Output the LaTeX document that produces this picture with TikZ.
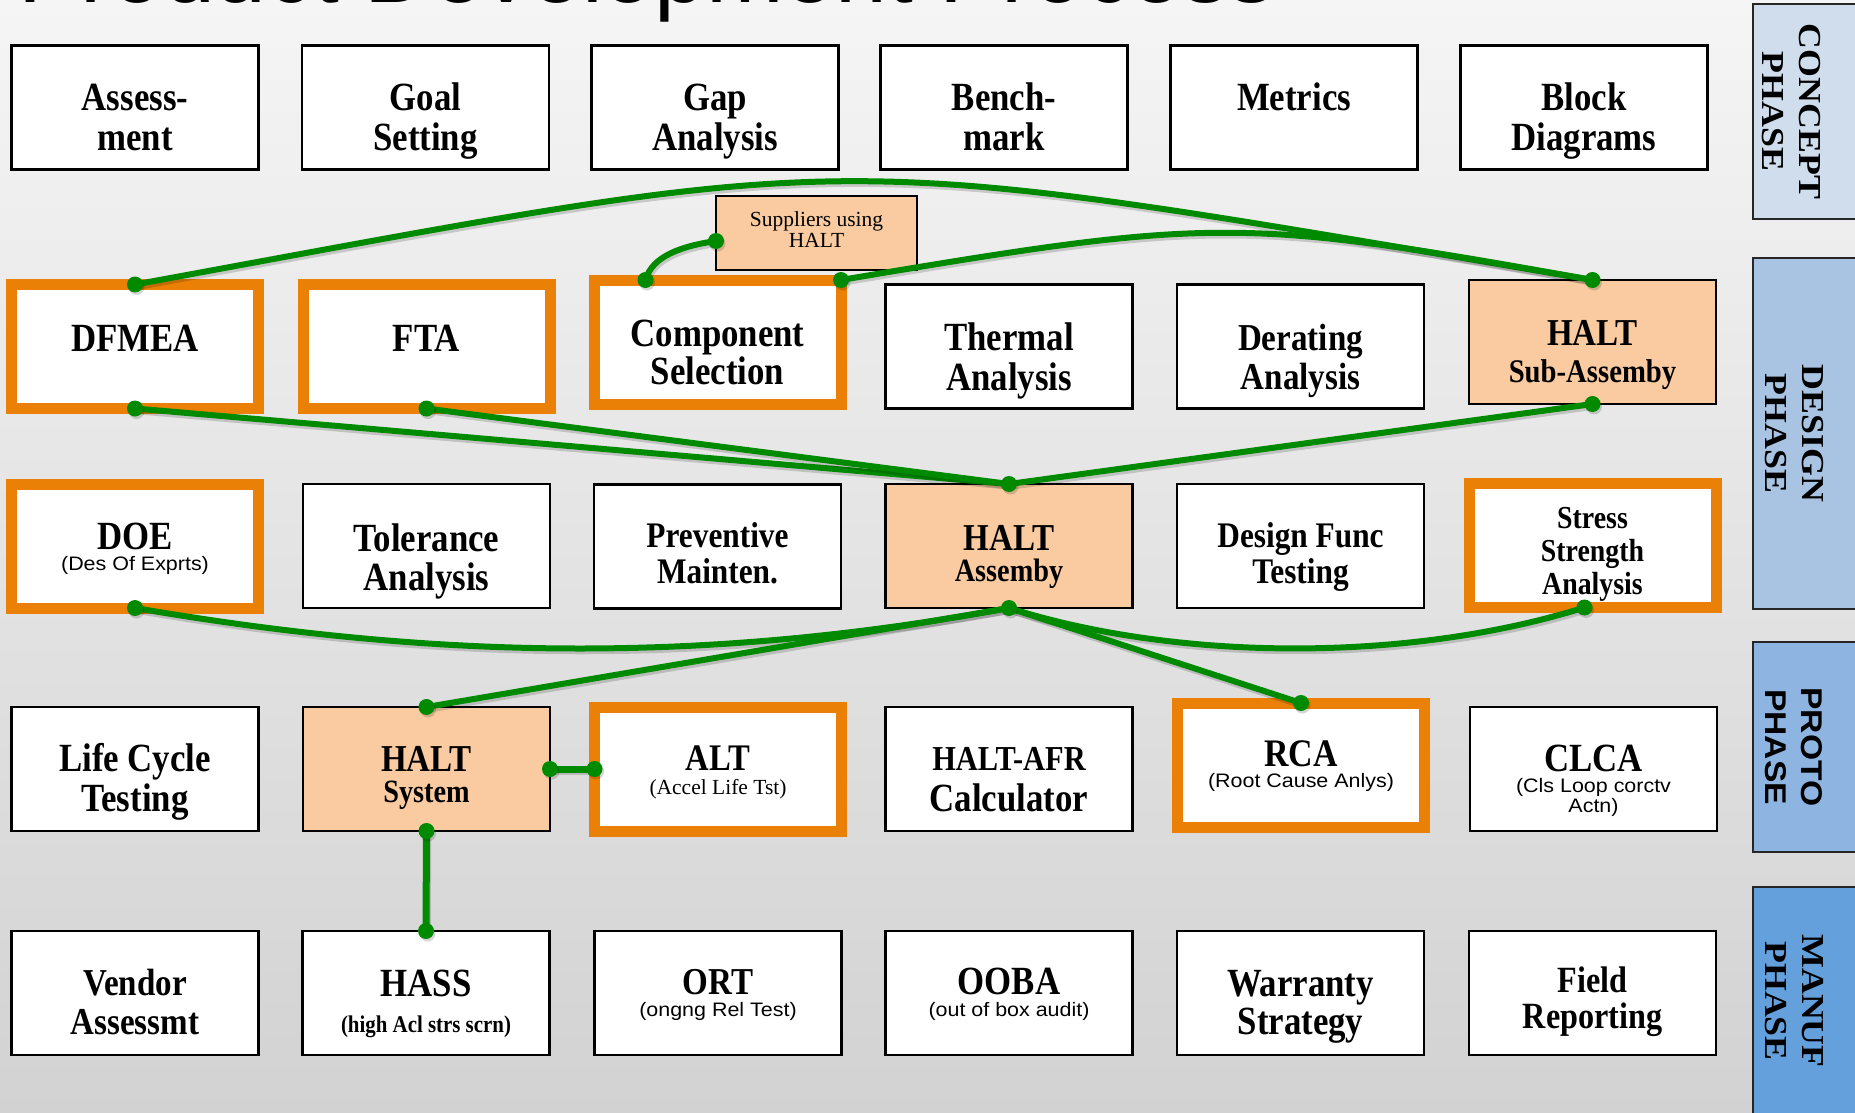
\documentclass[tikz,border=0pt]{standalone}
\usepackage{fontspec}
\setmainfont{Liberation Serif}
\newfontfamily\serifc[FakeStretch=0.87]{Liberation Serif}
\newfontfamily\sansn[FakeStretch=1.1]{Liberation Sans}
\newfontfamily\serifw[FakeStretch=1.12]{Liberation Serif}
\newfontfamily\sansw[FakeStretch=1.12]{Liberation Sans}
\newfontfamily\headfont[FakeStretch=0.98]{Liberation Sans}
\usetikzlibrary{calc}

\newcommand\tbold[1]{\serifc\bfseries\fontsize{#1}{#1}\selectfont}
\newcommand\treg[1]{\rmfamily\fontsize{#1}{#1}\selectfont}
\newcommand\tsans[1]{\sansn\fontsize{#1}{#1}\selectfont}

\definecolor{bgtop}{RGB}{245,245,245}
\definecolor{bgbot}{RGB}{210,210,210}
\definecolor{halo}{RGB}{234,128,6}
\definecolor{peach}{RGB}{250,203,160}
\definecolor{linkgreen}{RGB}{0,138,0}
\definecolor{ph1}{RGB}{207,221,236}
\definecolor{ph2}{RGB}{169,196,226}
\definecolor{ph3}{RGB}{142,181,225}
\definecolor{ph4}{RGB}{100,160,220}

% green junction dot with a soft drop shadow
\newcommand\knob[1]{%
  \fill[black, opacity=.16] ([xshift=1.5pt,yshift=-2.5pt]#1) circle[radius=8pt];
  \fill[linkgreen] (#1) circle[radius=8pt];}

\begin{document}
\begin{tikzpicture}[x=1pt,y=-1pt,
  cell/.style={draw=black, line width=2.4pt, fill=white, minimum width=247pt,
    minimum height=124pt, inner sep=0pt, outer sep=0pt},
  keycell/.style={cell, draw=halo, line width=11pt},
  haltcell/.style={cell, fill=peach, line width=2.2pt},
  phasebox/.style={draw=black!85, line width=1.6pt, inner sep=0pt, outer sep=0pt,
    minimum width=120pt, anchor=north west},
  phasetext/.style={rotate=-90, align=center, inner sep=0pt,
    font=\serifw\bfseries\fontsize{32}{37}\selectfont},
  lbl/.style={anchor=base, inner sep=0pt, outer sep=0pt},
  link/.style={draw=linkgreen, line width=6pt, line cap=round,
    preaction={draw=black, draw opacity=.16, line width=6.5pt,
      transform canvas={xshift=1.5pt, yshift=-2.5pt}}},
]
\useasboundingbox (0,0) rectangle (1855,1113);
\clip (0,0) rectangle (1855,1113);
\shade[top color=bgtop, bottom color=bgbot] (0,0) rectangle (1855,1113);

% heading, mostly above the top edge
\node[anchor=base west, inner sep=0pt, font=\headfont\fontsize{95}{95}\selectfont]
  (title) at (18,3) {Product Development Process};

% phase panels on the right
\node[phasebox, fill=ph1, minimum height=215pt] (pconcept) at (1753,4) {};
\node[phasebox, fill=ph2, minimum height=351pt] (pdesign) at (1753,258) {};
\node[phasebox, fill=ph3, minimum height=210pt] (pproto) at (1753,642) {};
\node[phasebox, fill=ph4, minimum height=240pt] (pmanuf) at (1753,887) {};
\node[phasetext] (tconcept) at (1791,111.5) {CONCEPT\\PHASE};
\node[phasetext] (tdesign) at (1794,433.5) {DESIGN\\PHASE};
\node[phasetext, font=\sansw\bfseries\fontsize{30}{36}\selectfont] (tproto) at (1794,747) {PROTO\\PHASE};
\node[phasetext] (tmanuf) at (1794,1001) {MANUF\\PHASE};

% row 1
\node[cell] (assess) at (135,107.5) {};
\node[cell] (goal) at (425.5,107.5) {};
\node[cell] (gap) at (715,107.5) {};
\node[cell] (bench) at (1004,107.5) {};
\node[cell] (metrics) at (1294,107.5) {};
\node[cell] (block) at (1584,107.5) {};

% row 2
\node[keycell] (dfmea) at (135,346.5) {};
\node[keycell] (fta) at (426.5,346.5) {};
\node[keycell] (comp) at (717.5,342) {};
\node[cell] (thermal) at (1009,346.5) {};
\node[cell] (derate) at (1300.5,346.5) {};
\node[haltcell] (hsub) at (1592.5,342) {};
\node[haltcell, minimum width=201pt, minimum height=74pt] (sup) at (816.5,233) {};

% row 3
\node[keycell] (doe) at (135,546) {};
\node[cell] (tol) at (426.5,546) {};
\node[cell] (prev) at (717.5,546.5) {};
\node[haltcell] (hasm) at (1009,546) {};
\node[cell] (dft) at (1300.5,546) {};
\node[keycell] (stress) at (1592.5,545.5) {};

% row 4
\node[cell] (life) at (135,769) {};
\node[haltcell] (hsys) at (426.5,769) {};
\node[keycell] (alt) at (718,769) {};
\node[cell] (afr) at (1009,769) {};
\node[keycell] (rca) at (1301,765) {};
\node[cell] (clca) at (1593.5,769) {};

% row 5
\node[cell] (vendor) at (135,993) {};
\node[cell] (hass) at (426,993) {};
\node[cell] (ort) at (718,993) {};
\node[cell] (ooba) at (1009,993) {};
\node[cell] (warr) at (1300.5,993) {};
\node[cell] (field) at (1592.5,993) {};

% connector ends that sit off the plain anchors
\coordinate (supL) at ([yshift=-8pt]sup.west);
\coordinate (compT) at ([xshift=-72pt]comp.north);
\coordinate (stressB) at ([xshift=-8pt]stress.south);

% HALT links
\draw[link] (dfmea.north) .. controls (881,147.5) and (810,147.5) .. (hsub.north);
\draw[link] (comp.north east) .. controls (1215,217) and (1240,217) .. (hsub.north);
\draw[link] (supL) .. controls (682,246) and (652,256) .. (compT);
\draw[link] (dfmea.south) -- (hasm.north);
\draw[link] (fta.south) -- (hasm.north);
\draw[link] (hsub.south) -- (hasm.north);
\draw[link] (doe.south) .. controls (450,662) and (715,662) .. (hasm.south);
\draw[link] (hasm.south) .. controls (1180,662) and (1410,662) .. (stressB);
\draw[link] (hasm.south) -- (hsys.north);
\draw[link] (hasm.south) -- (rca.north);
\draw[link, line width=7pt] (hsys.east) -- (alt.west);
\draw[link, line width=7pt] (hsys.south) -- (hass.north);

\knob{dfmea.north} \knob{hsub.north} \knob{comp.north east} \knob{supL}
\knob{compT} \knob{dfmea.south} \knob{fta.south} \knob{hsub.south}
\knob{hasm.north} \knob{doe.south} \knob{hasm.south} \knob{stressB}
\knob{hsys.north} \knob{rca.north} \knob{hsys.east} \knob{alt.west}
\knob{hsys.south} \knob{hass.north}

% texts, row 1
\node[lbl, font=\tbold{40}] (t-as1) at (135,111) {Assess-};
\node[lbl, font=\tbold{40}] (t-as2) at (135,150) {ment};
\node[lbl, font=\tbold{40}] (t-go1) at (425.5,111) {Goal};
\node[lbl, font=\tbold{40}] (t-go2) at (425.5,150) {Setting};
\node[lbl, font=\tbold{40}] (t-ga1) at (715,111) {Gap};
\node[lbl, font=\tbold{40}] (t-ga2) at (715,150) {Analysis};
\node[lbl, font=\tbold{40}] (t-be1) at (1004,111) {Bench-};
\node[lbl, font=\tbold{40}] (t-be2) at (1004,150) {mark};
\node[lbl, font=\tbold{40}] (t-me1) at (1294,111) {Metrics};
\node[lbl, font=\tbold{40}] (t-bl1) at (1584,111) {Block};
\node[lbl, font=\tbold{40}] (t-bl2) at (1584,150) {Diagrams};

% row 2
\node[lbl, font=\treg{21.5}] (t-su1) at (816.5,226) {Suppliers using};
\node[lbl, font=\treg{21.5}] (t-su2) at (816.5,247) {HALT};
\node[lbl, font=\tbold{40}] (t-df1) at (135,351) {DFMEA};
\node[lbl, font=\tbold{40}] (t-ft1) at (426.5,351) {FTA};
\node[lbl, font=\tbold{40}] (t-co1) at (717.5,346) {Component};
\node[lbl, font=\tbold{40}] (t-co2) at (717.5,384) {Selection};
\node[lbl, font=\tbold{40}] (t-th1) at (1009,350) {Thermal};
\node[lbl, font=\tbold{40}] (t-th2) at (1009,390) {Analysis};
\node[lbl, font=\tbold{38}] (t-de1) at (1300.5,350) {Derating};
\node[lbl, font=\tbold{38}] (t-de2) at (1300.5,389) {Analysis};
\node[lbl, font=\tbold{38}] (t-hs1) at (1592.5,345) {HALT};
\node[lbl, font=\tbold{33}] (t-hs2) at (1592.5,382) {Sub-Assemby};

% row 3
\node[lbl, font=\tbold{40}] (t-do1) at (135,549) {DOE};
\node[lbl, font=\tsans{19.5}] (t-do2) at (135,570) {(Des Of Exprts)};
\node[lbl, font=\tbold{40}] (t-to1) at (426.5,551) {Tolerance};
\node[lbl, font=\tbold{40}] (t-to2) at (426.5,590) {Analysis};
\node[lbl, font=\tbold{36}] (t-pr1) at (717.5,547) {Preventive};
\node[lbl, font=\tbold{36}] (t-pr2) at (717.5,583) {Mainten.};
\node[lbl, font=\tbold{38}] (t-ha1) at (1009,550) {HALT};
\node[lbl, font=\tbold{32.5}] (t-ha2) at (1009,581) {Assemby};
\node[lbl, font=\tbold{36}] (t-dt1) at (1300.5,547) {Design Func};
\node[lbl, font=\tbold{36}] (t-dt2) at (1300.5,583) {Testing};
\node[lbl, font=\tbold{32}] (t-st1) at (1592.5,528) {Stress};
\node[lbl, font=\tbold{32}] (t-st2) at (1592.5,561) {Strength};
\node[lbl, font=\tbold{32}] (t-st3) at (1592.5,594) {Analysis};

% row 4
\node[lbl, font=\tbold{40}] (t-li1) at (135,771) {Life Cycle};
\node[lbl, font=\tbold{40}] (t-li2) at (135,811) {Testing};
\node[lbl, font=\tbold{38}] (t-hy1) at (426.5,771) {HALT};
\node[lbl, font=\tbold{32.5}] (t-hy2) at (426.5,802) {System};
\node[lbl, font=\tbold{37.5}] (t-al1) at (718,770) {ALT};
\node[lbl, font=\treg{21.5}] (t-al2) at (718,794) {(Accel Life Tst)};
\node[lbl, font=\tbold{35}] (t-af1) at (1009,770) {HALT-AFR};
\node[lbl, font=\tbold{40}] (t-af2) at (1009,811) {Calculator};
\node[lbl, font=\tbold{39}] (t-rc1) at (1301,766) {RCA};
\node[lbl, font=\tsans{19.5}] (t-rc2) at (1301,787) {(Root Cause Anlys)};
\node[lbl, font=\tbold{40}] (t-cl1) at (1593.5,771) {CLCA};
\node[lbl, font=\tsans{19.5}] (t-cl2) at (1593.5,792) {(Cls Loop corctv};
\node[lbl, font=\tsans{19.5}] (t-cl3) at (1593.5,812) {Actn)};

% row 5
\node[lbl, font=\tbold{38}] (t-ve1) at (135,995) {Vendor};
\node[lbl, font=\tbold{38}] (t-ve2) at (135,1034) {Assessmt};
\node[lbl, font=\tbold{40}] (t-hc1) at (426,996) {HASS};
\node[lbl, font=\tbold{24}] (t-hc2) at (426,1032) {(high Acl strs scrn)};
\node[lbl, font=\tbold{38}] (t-or1) at (718,994) {ORT};
\node[lbl, font=\tsans{19.5}] (t-or2) at (718,1016) {(ongng Rel Test)};
\node[lbl, font=\tbold{40}] (t-oo1) at (1009,994) {OOBA};
\node[lbl, font=\tsans{19.5}] (t-oo2) at (1009,1016) {(out of box audit)};
\node[lbl, font=\tbold{40}] (t-wa1) at (1300.5,996) {Warranty};
\node[lbl, font=\tbold{40}] (t-wa2) at (1300.5,1034) {Strategy};
\node[lbl, font=\tbold{37}] (t-fi1) at (1592.5,992) {Field};
\node[lbl, font=\tbold{37}] (t-fi2) at (1592.5,1028) {Reporting};
\end{tikzpicture}
\end{document}
